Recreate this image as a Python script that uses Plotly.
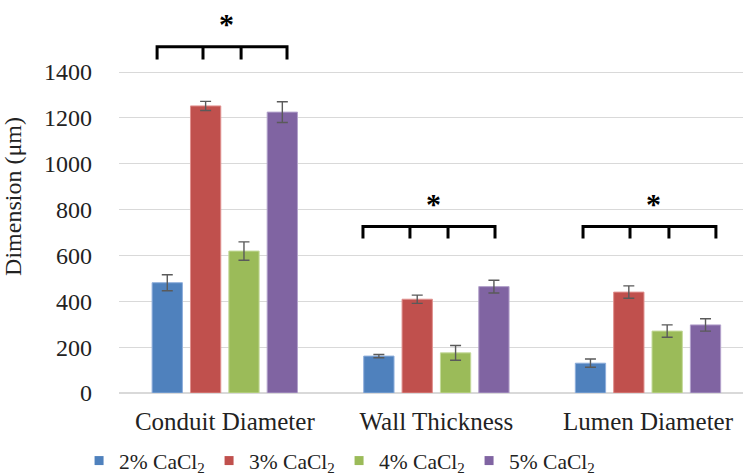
import plotly.graph_objects as go

# Measured conduit dimensions (µm), mean and standard deviation per CaCl2 concentration
categories = ["Conduit Diameter", "Wall Thickness", "Lumen Diameter"]
series_names = ["2% CaCl<sub>2</sub>", "3% CaCl<sub>2</sub>", "4% CaCl<sub>2</sub>", "5% CaCl<sub>2</sub>"]
mean_2pct = [481, 161, 130]
mean_3pct = [1252, 409, 440]
mean_4pct = [619, 175, 270]
mean_5pct = [1225, 464, 297]
sd_2pct = [35, 7, 18]
sd_3pct = [20, 18, 27]
sd_4pct = [40, 32, 27]
sd_5pct = [45, 28, 27]
y_ticks = [0, 200, 400, 600, 800, 1000, 1200, 1400]

means = [mean_2pct, mean_3pct, mean_4pct, mean_5pct]
sds = [sd_2pct, sd_3pct, sd_4pct, sd_5pct]
fill_colors = ["#4F81BD", "#C0504D", "#9BBB59", "#8064A2"]
edge_colors = ["#8EAEDB", "#E0908E", "#C4DA9A", "#B3A2CC"]

FONT = '"Liberation Serif", "Times New Roman", serif'

fig = go.Figure()
for name, m, s, fc, ec in zip(series_names, means, sds, fill_colors, edge_colors):
    fig.add_trace(go.Bar(
        x=categories, y=m, name=name, showlegend=False,
        marker=dict(color=fc, line=dict(color=ec, width=1)),
        error_y=dict(type="data", array=s, visible=True,
                     color="#5A5A5A", thickness=1.4, width=5.5),
    ))
    # small square legend key
    fig.add_trace(go.Scatter(
        x=[None], y=[None], mode="markers", name=name,
        marker=dict(symbol="square", size=9, color=fc),
    ))

# significance brackets: x offsets of the bracket legs relative to each category
bracket_legs = [
    [-0.320, -0.103, 0.077, 0.294],
    [-0.347, -0.125, 0.055, 0.277],
    [-0.307, -0.085, 0.099, 0.321],
]
star_offsets = [0.006, -0.016, 0.024]
bracket_top = [1510, 726, 726]
bracket_leg_end = [1455, 674, 674]
star_y = [1612, 828, 828]

for i, (legs, top, end) in enumerate(zip(bracket_legs, bracket_top, bracket_leg_end)):
    xs = [i + d for d in legs]
    path = f"M{xs[0]},{end} L{xs[0]},{top} L{xs[3]},{top} L{xs[3]},{end}"
    path += f" M{xs[1]},{top} L{xs[1]},{end} M{xs[2]},{top} L{xs[2]},{end}"
    fig.add_shape(type="path", path=path, xref="x", yref="y",
                  line=dict(color="black", width=3))
    fig.add_annotation(x=i + star_offsets[i], y=star_y[i], xref="x", yref="y",
                       text="<b>*</b>", showarrow=False,
                       font=dict(family=FONT, size=30, color="black"))

fig.update_layout(
    width=743, height=476,
    margin=dict(l=119, r=0, t=0, b=83, autoexpand=False),
    paper_bgcolor="white", plot_bgcolor="white",
    font=dict(family=FONT, size=24, color="#222222"),
    barmode="group", bargap=0.275, bargroupgap=0.21,
    showlegend=True,
    legend=dict(orientation="h", x=-0.064, y=-0.172, xanchor="left", yanchor="middle",
                font=dict(family=FONT, size=21.5, color="#222222"),
                entrywidth=85, entrywidthmode="pixels",
                itemwidth=30, bgcolor="rgba(0,0,0,0)"),
)
fig.update_xaxes(
    range=[-0.5, 2.449], showgrid=False, showline=False, ticks="",
    ticklabelstandoff=11, tickfont=dict(family=FONT, size=25, color="#222222"),
)
fig.update_yaxes(
    range=[0, 1714], tickvals=y_ticks, ticktext=[str(v) for v in y_ticks],
    showgrid=True, gridcolor="#D9D9D9", gridwidth=1,
    zeroline=True, zerolinecolor="#D9D9D9", zerolinewidth=1.5,
    showline=False, ticks="", ticklabelstandoff=26,
    tickfont=dict(family=FONT, size=24, color="#222222"),
    title=dict(text="Dimension (μm)", standoff=17,
               font=dict(family=FONT, size=24, color="#222222")),
)

fig.write_html("out.html")
